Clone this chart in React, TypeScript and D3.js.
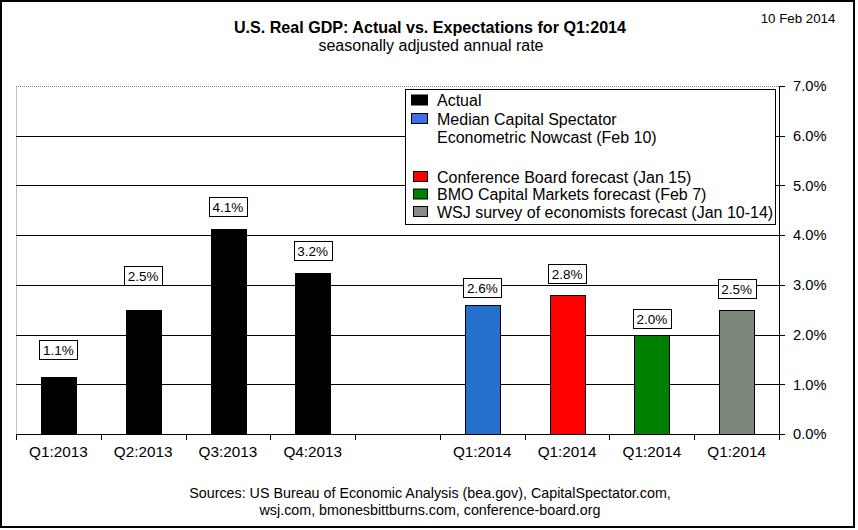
import React from "react";
import * as d3 from "d3";

const categories = ["Q1:2013", "Q2:2013", "Q3:2013", "Q4:2013", "", "Q1:2014", "Q1:2014", "Q1:2014", "Q1:2014"];
const values: (number | null)[] = [1.14, 2.49, 4.13, 3.24, null, 2.6, 2.8, 2.0, 2.5];
const labels = ["1.1%", "2.5%", "4.1%", "3.2%", "", "2.6%", "2.8%", "2.0%", "2.5%"];
const barColors = ["#000000", "#000000", "#000000", "#000000", "none", "#2470cc", "#ff0000", "#008000", "#7b877b"];
const yTicks = [0, 1, 2, 3, 4, 5, 6, 7];

const legendItems = [
  { label: "Actual", color: "#000000" },
  { label: "Median Capital Spectator", color: "#3b6fe6" },
  { label: "Econometric Nowcast (Feb 10)", color: null },
  { label: "", color: null },
  { label: "Conference Board forecast (Jan 15)", color: "#ff0000" },
  { label: "BMO Capital Markets forecast (Feb 7)", color: "#008000" },
  { label: "WSJ survey of economists forecast (Jan 10-14)", color: "#8a8a8a" },
];

const title = "U.S. Real GDP: Actual vs. Expectations for Q1:2014";
const subtitle = "seasonally adjusted annual rate";
const dateText = "10 Feb 2014";
const sources = [
  "Sources: US Bureau of Economic Analysis (bea.gov), CapitalSpectator.com,",
  "wsj.com,  bmonesbittburns.com,  conference-board.org",
];

// layout: lift of each value label above its bar (px)
const labelLift = [18, 25, 13, 13, 0, 8, 12, 7, 12];

const W = 858;
const H = 530;
const left = 16;
const right = 779;
const top = 86;
const bottom = 434;
const FONT = "'Liberation Sans', Arial, sans-serif";

export default function App() {
  const x = d3
    .scaleBand<number>()
    .domain(categories.map((_, i) => i))
    .range([left, right])
    .padding(0);
  const y = d3.scaleLinear().domain([0, 7]).range([bottom, top]);
  const bw = x.bandwidth();
  const barW = bw * 0.41;
  const boundaries = d3.range(categories.length + 1).map((i) => left + i * bw);

  const rowYs = [100.5, 119, 137.5, 156, 177, 194.5, 212];

  return (
    <svg
      width={W}
      height={H}
      style={{ position: "absolute", left: 0, top: 0, display: "block", background: "#fff" }}
      fontFamily={FONT}
    >
      <rect x={0} y={0} width={W} height={H} fill="#fff" />
      {/* outer frame */}
      <rect x={1} y={1} width={853} height={526} fill="none" stroke="#000" strokeWidth={2} />

      {/* title */}
      <text x={430} y={33} textAnchor="middle" fontSize={16.1} fontWeight="bold" fill="#000">
        {title}
      </text>
      <text x={431} y={51} textAnchor="middle" fontSize={16} fill="#000">
        {subtitle}
      </text>
      <text x={798} y={23} textAnchor="middle" fontSize={13.3} fill="#000">
        {dateText}
      </text>

      {/* plot area border (gray dotted) */}
      <line x1={left + 0.5} y1={top + 0.5} x2={left + 0.5} y2={bottom} stroke="#808080" strokeWidth={1} strokeDasharray="1,1" />
      <line x1={left} y1={top + 0.5} x2={right} y2={top + 0.5} stroke="#808080" strokeWidth={1} strokeDasharray="1,1" />

      {/* gridlines */}
      {yTicks
        .filter((t) => t > 0 && t < 7)
        .map((t) => (
          <line key={"g" + t} x1={left} x2={right} y1={Math.round(y(t)) + 0.5} y2={Math.round(y(t)) + 0.5} stroke="#000" strokeWidth={1} />
        ))}

      {/* bars */}
      {values.map((v, i) =>
        v == null ? null : (
          <rect
            key={"b" + i}
            x={Math.round((x(i) as number) + bw / 2 - barW / 2) + 0.5}
            y={Math.round(y(v)) + 0.5}
            width={Math.round(barW)}
            height={Math.round(bottom - y(v))}
            fill={barColors[i]}
            stroke="#000"
            strokeWidth={1}
          />
        )
      )}

      {/* baseline and ticks */}
      <line x1={left} x2={right} y1={bottom + 0.5} y2={bottom + 0.5} stroke="#000" strokeWidth={1} />
      {boundaries.map((bx, i) => (
        <line key={"t" + i} x1={Math.round(bx) + 0.5} x2={Math.round(bx) + 0.5} y1={bottom} y2={bottom + 6} stroke="#000" strokeWidth={1} />
      ))}

      {/* right axis */}
      <line x1={right + 0.5} x2={right + 0.5} y1={top} y2={bottom + 6} stroke="#000" strokeWidth={1} />
      {yTicks.map((t) => (
        <g key={"y" + t}>
          <line x1={right} x2={right + 6} y1={Math.round(y(t)) + 0.5} y2={Math.round(y(t)) + 0.5} stroke="#000" strokeWidth={1} />
          <text x={793} y={y(t)} dy="0.36em" fontSize={14.7} fill="#000">
            {t.toFixed(1) + "%"}
          </text>
        </g>
      ))}

      {/* category labels */}
      {categories.map((c, i) => (
        <text key={"c" + i} x={(x(i) as number) + bw / 2} y={457} textAnchor="middle" fontSize={15.3} fill="#000">
          {c}
        </text>
      ))}

      {/* value labels */}
      {values.map((v, i) => {
        if (v == null) return null;
        const cx = (x(i) as number) + bw / 2;
        const boxBottom = Math.round(y(v) - labelLift[i]);
        const bwid = 38;
        const bh = 19;
        return (
          <g key={"l" + i}>
            <rect x={Math.round(cx - bwid / 2) + 0.5} y={boxBottom - bh + 0.5} width={bwid} height={bh} fill="#fff" stroke="#000" strokeWidth={1} />
            <text x={cx} y={boxBottom - bh / 2 + 1} dy="0.35em" textAnchor="middle" fontSize={13.5} fill="#000">
              {labels[i]}
            </text>
          </g>
        );
      })}

      {/* legend */}
      <rect x={405.5} y={89.5} width={370} height={135} fill="#fff" stroke="#000" strokeWidth={1} />
      {legendItems.map((it, i) => (
        <g key={"lg" + i}>
          {it.color && (
            <rect
              x={i < 2 ? 411.5 : 413.5}
              y={rowYs[i] - 5.5}
              width={i < 2 ? 16 : 14}
              height={10}
              fill={it.color}
              stroke="#000"
              strokeWidth={1}
            />
          )}
          <text x={437} y={rowYs[i]} dy="0.36em" fontSize={16} fill="#000">
            {it.label}
          </text>
        </g>
      ))}

      {/* sources */}
      {sources.map((s, i) => (
        <text key={"s" + i} x={430} y={498 + i * 17} textAnchor="middle" fontSize={14.3} fill="#000">
          {s}
        </text>
      ))}
    </svg>
  );
}
